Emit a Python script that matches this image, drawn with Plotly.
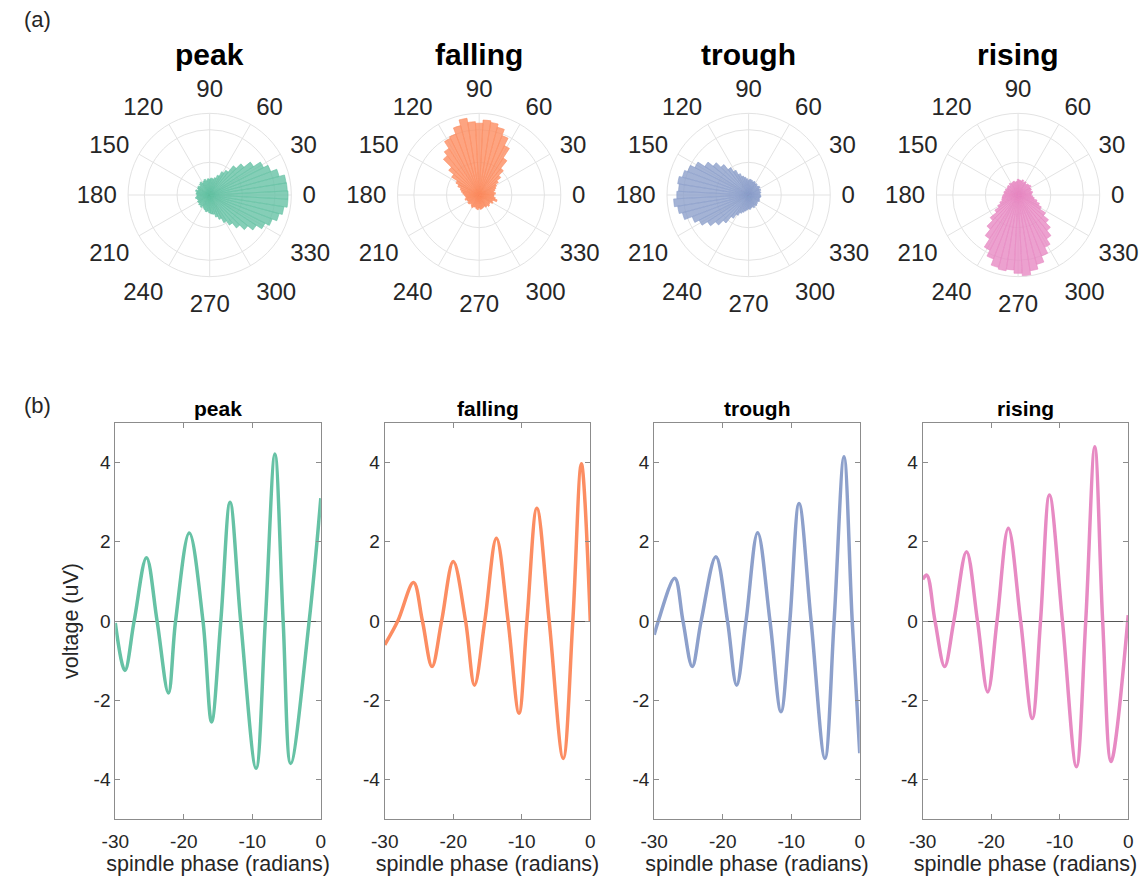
import plotly.graph_objects as go

W, H = 1146, 879

names = ["peak", "falling", "trough", "rising"]
colors = ["#66c2a5", "#fc8d62", "#8da0cb", "#e78ac3"]
fills = ["rgba(102,194,165,0.8)", "rgba(252,141,98,0.8)", "rgba(141,160,203,0.8)", "rgba(231,138,195,0.8)"]

# polar histogram bins (bin centers in degrees, 6-degree bins)
theta_bins = list(range(0, 360, 6))

peak_counts = [2.40, 2.38, 2.37, 2.20, 2.00, 1.85, 1.60, 1.35, 1.15, 0.90,
               0.80, 0.65, 0.55, 0.50, 0.52, 0.48, 0.50, 0.45, 0.50, 0.46,
               0.42, 0.48, 0.45, 0.40, 0.44, 0.42, 0.38, 0.45, 0.40, 0.42,
               0.38, 0.40, 0.44, 0.40, 0.38, 0.42, 0.40, 0.44, 0.42, 0.46,
               0.40, 0.45, 0.48, 0.52, 0.50, 0.55, 0.58, 0.60, 0.70, 0.80,
               0.95, 1.10, 1.30, 1.50, 1.70, 1.90, 2.05, 2.20, 2.30, 2.40]

falling_counts = [0.45, 0.50, 0.45, 0.50, 0.55, 0.60, 0.70, 0.85, 1.05, 1.35,
                  1.70, 1.95, 2.15, 2.25, 2.30, 2.20, 2.25, 2.38, 2.20, 2.00,
                  1.95, 1.70, 1.55, 1.20, 1.00, 0.80, 0.70, 0.60, 0.55, 0.50,
                  0.45, 0.42, 0.40, 0.45, 0.40, 0.38, 0.42, 0.40, 0.36, 0.40,
                  0.44, 0.40, 0.38, 0.42, 0.45, 0.40, 0.44, 0.42, 0.40, 0.38,
                  0.42, 0.40, 0.45, 0.42, 0.40, 0.48, 0.44, 0.57, 0.50, 0.45]

trough_counts = [0.36, 0.34, 0.38, 0.35, 0.40, 0.36, 0.42, 0.40, 0.38, 0.42,
                 0.40, 0.45, 0.42, 0.46, 0.48, 0.45, 0.50, 0.55, 0.60, 0.70,
                 0.85, 1.00, 1.20, 1.40, 1.60, 1.85, 2.00, 2.10, 2.20, 2.15,
                 2.20, 2.30, 2.20, 2.10, 1.85, 1.70, 1.50, 1.30, 1.10, 0.85,
                 0.70, 0.60, 0.55, 0.50, 0.46, 0.42, 0.44, 0.40, 0.38, 0.42,
                 0.36, 0.40, 0.38, 0.35, 0.34, 0.38, 0.36, 0.34, 0.36, 0.38]

rising_counts = [0.40, 0.42, 0.45, 0.40, 0.44, 0.42, 0.48, 0.45, 0.44, 0.40,
                 0.46, 0.42, 0.48, 0.44, 0.46, 0.48, 0.42, 0.40, 0.44, 0.42,
                 0.40, 0.44, 0.38, 0.42, 0.40, 0.38, 0.42, 0.40, 0.44, 0.42,
                 0.45, 0.48, 0.50, 0.52, 0.60, 0.70, 0.85, 1.10, 1.35, 1.60,
                 1.90, 2.10, 2.30, 2.35, 2.30, 2.40, 2.52, 2.35, 2.20, 2.00,
                 1.80, 1.60, 1.40, 1.20, 1.00, 0.80, 0.70, 0.60, 0.50, 0.45]

counts_all = [peak_counts, falling_counts, trough_counts, rising_counts]

# spindle-triggered averages: phase (radians) and voltage (uV)
peak_x = [-30, -28.6, -27.25, -25.45, -23.9, -22.25, -21.2, -19.2, -17.2, -15.95,
          -14.6, -13.25, -11.7, -9.45, -8.1, -6.7, -5.5, -4.4, -1.7, 0]
peak_y = [-0.05, -1.25, 0, 1.6, 0, -1.82, 0, 2.22, 0, -2.55,
          0, 3.0, 0, -3.72, 0, 4.22, 0, -3.6, 0, 3.1]

falling_x = [-30, -28.1, -25.8, -24.5, -23.1, -21.7, -20.0, -18.2, -16.9, -15.4,
             -13.7, -12.0, -10.4, -9.25, -7.8, -6.0, -3.95, -2.55, -1.3, 0]
falling_y = [-0.6, 0, 0.97, 0, -1.15, 0, 1.5, 0, -1.62, 0,
             2.09, 0, -2.33, 0, 2.85, 0, -3.47, 0, 3.97, 0.0]

trough_x = [-30, -29.4, -27.0, -25.8, -24.45, -23.15, -21.0, -19.3, -17.97, -16.6,
            -14.9, -13.1, -11.5, -10.2, -8.86, -7.1, -5.08, -3.74, -2.3, -1.1, 0]
trough_y = [-0.35, 0, 1.08, 0, -1.15, 0, 1.62, 0, -1.62, 0,
            2.23, 0, -2.29, 0, 2.97, 0, -3.47, 0, 4.15, 0, -3.34]

rising_x = [-30, -29.4, -28.2, -26.8, -25.45, -23.6, -22.0, -20.5, -19.15, -17.5,
            -15.7, -14.0, -12.8, -11.5, -9.6, -7.56, -6.2, -4.88, -3.73, -2.5, 0]
rising_y = [1.05, 1.16, 0, -1.15, 0, 1.75, 0, -1.79, 0, 2.34,
            0, -2.46, 0, 3.18, 0, -3.68, 0, 4.4, 0, -3.55, 0.15]

lines_x = [peak_x, falling_x, trough_x, rising_x]
lines_y = [peak_y, falling_y, trough_y, rising_y]

x_ticks = [-30, -20, -10, 0]
x_ticktext = ["-30", "-20", "-10", "0"]
y_ticks = [-4, -2, 0, 2, 4]
y_ticktext = ["-4", "-2", "0", "2", "4"]
angle_ticks = list(range(0, 360, 30))

FONT = "Liberation Sans, Arial, Helvetica, sans-serif"
TXT = "#262626"

fig = go.Figure()
layout = dict(width=W, height=H, margin=dict(l=0, r=0, t=0, b=0),
              paper_bgcolor="white", plot_bgcolor="white", showlegend=False,
              font=dict(family=FONT, color=TXT))
annotations = []

polar_cx = [199, 473, 747, 1021]
polar_cy = 195
R = 83
for i in range(4):
    pname = "polar" if i == 0 else f"polar{i+1}"
    fig.add_trace(go.Barpolar(
        r=counts_all[i], theta=theta_bins, width=[6] * len(theta_bins),
        marker=dict(color=fills[i], line=dict(color=colors[i], width=0.6)),
        subplot=pname))
    cx = polar_cx[i]
    layout[pname] = dict(
        domain=dict(x=[(cx - R) / W, (cx + R) / W],
                    y=[1 - (polar_cy + R) / H, 1 - (polar_cy - R) / H]),
        bgcolor="white",
        radialaxis=dict(range=[0, 2.5], tickvals=[1, 2], showticklabels=False,
                        ticks="", showline=False, gridcolor="#e3e3e3", gridwidth=1),
        angularaxis=dict(tickvals=angle_ticks, ticktext=[str(a) for a in angle_ticks],
                         direction="counterclockwise", rotation=0,
                         gridcolor="#e3e3e3", linecolor="#e3e3e3", showline=True,
                         ticks="outside", ticklen=6, tickcolor="rgba(0,0,0,0)",
                         tickfont=dict(size=24, color=TXT, family=FONT)),
    )
    annotations.append(dict(text=f"<b>{names[i]}</b>", x=cx / W, y=1 - 54 / H,
                            xref="paper", yref="paper", showarrow=False,
                            font=dict(size=30, color="black", family=FONT),
                            xanchor="center", yanchor="middle"))

ax_left = [103, 377, 651, 924]
ax_w = 209
ax_top, ax_bot = 423, 819
for i in range(4):
    xa = "x" if i == 0 else f"x{i+1}"
    ya = "y" if i == 0 else f"y{i+1}"
    fig.add_trace(go.Scatter(x=lines_x[i], y=lines_y[i], mode="lines",
                             line=dict(color=colors[i], width=3.5, shape="spline", smoothing=1.0),
                             xaxis=xa, yaxis=ya, hoverinfo="skip"))
    xkey = "xaxis" if i == 0 else f"xaxis{i+1}"
    ykey = "yaxis" if i == 0 else f"yaxis{i+1}"
    layout[xkey] = dict(domain=[ax_left[i] / W, (ax_left[i] + ax_w) / W], anchor=ya,
                        range=[-30, 0], tickvals=x_ticks, ticktext=x_ticktext,
                        ticks="inside", ticklen=5, ticklabelstandoff=5,
                        tickcolor="#8c8c8c", showline=True, linecolor="#8c8c8c", mirror="ticks",
                        showgrid=False, zeroline=False,
                        tickfont=dict(size=19, color=TXT, family=FONT),
                        title=dict(text="spindle phase (radians)", standoff=3,
                                   font=dict(size=21.5, color=TXT, family=FONT)))
    layout[ykey] = dict(domain=[1 - ax_bot / H, 1 - ax_top / H], anchor=xa,
                        range=[-5, 5], tickvals=y_ticks, ticktext=y_ticktext,
                        ticks="inside", ticklen=5,
                        tickcolor="#8c8c8c", showline=True, linecolor="#8c8c8c", mirror="ticks",
                        showgrid=False, zeroline=True, zerolinecolor="#555555", zerolinewidth=1,
                        tickfont=dict(size=19, color=TXT, family=FONT))
    if i == 0:
        layout[ykey]["title"] = dict(text="voltage (uV)", standoff=9,
                                     font=dict(size=21.5, color=TXT, family=FONT))
    annotations.append(dict(text=f"<b>{names[i]}</b>", x=(ax_left[i] + ax_w / 2) / W,
                            y=1 - 409 / H, xref="paper", yref="paper", showarrow=False,
                            font=dict(size=21, color="black", family=FONT),
                            xanchor="center", yanchor="middle"))

annotations.append(dict(text="(a)", x=8 / W, y=1 - 20 / H, xref="paper", yref="paper",
                        showarrow=False, xanchor="left", yanchor="middle",
                        font=dict(size=22, color=TXT, family=FONT)))
annotations.append(dict(text="(b)", x=8 / W, y=1 - 405 / H, xref="paper", yref="paper",
                        showarrow=False, xanchor="left", yanchor="middle",
                        font=dict(size=22, color=TXT, family=FONT)))
layout["annotations"] = annotations
fig.update_layout(**layout)
fig.write_html("out.html")
